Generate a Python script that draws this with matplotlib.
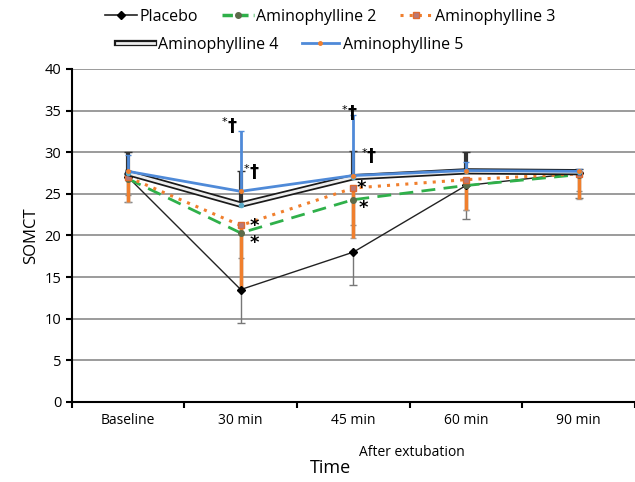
import matplotlib
matplotlib.use("Agg")
import matplotlib.pyplot as plt
import matplotlib.patheffects as pe
from matplotlib.lines import Line2D

plt.rcParams['font.family'] = ['Open Sans', 'DejaVu Sans']

# Данные
categories = ['Baseline', '30 min', '45 min', '60 min', '90 min']
placebo = [27.0, 13.5, 18.0, 26.0, 27.5]
amino2 = [26.8, 20.3, 24.3, 26.0, 27.3]
amino3 = [27.0, 21.2, 25.7, 26.7, 27.4]
amino4 = [27.5, 23.7, 27.0, 27.7, 27.6]
amino5 = [27.7, 25.3, 27.2, 27.8, 27.7]

# Погрешности (одна сторона)
placebo_low = [3.0, 4.0, 4.0, 4.0, 3.0]
amino2_low = [2.0, 3.0, 3.0, 3.0, 2.0]
amino3_low = [3.0, 7.7, 6.0, 3.7, 3.0]
amino4_up = [2.5, 4.0, 3.2, 2.3, 0.4]
amino5_up = [2.0, 7.2, 7.3, 1.0, 0.3]

x = list(range(len(categories)))
zeros = [0] * len(x)

fig = plt.figure(figsize=(6.35, 4.82), dpi=100)
ax = fig.add_axes([0.113, 0.166, 0.887, 0.691])

ax.set_ylim(0, 40)
ax.set_xlim(-0.5, 4.5)
ax.set_yticks(range(0, 41, 5))
for yv in range(5, 41, 5):
    ax.axhline(yv, color='#8a8a8a', lw=1.2, zorder=0)

# Placebo
ax.errorbar(x, placebo, yerr=[placebo_low, zeros], fmt='none', ecolor='#777777',
            elinewidth=1, capsize=3, zorder=2)
ax.plot(x, placebo, color='#222222', lw=1, marker='D', ms=4.5, mfc='black', mec='black', zorder=3)

# Aminophylline 2
ax.errorbar(x, amino2, yerr=[amino2_low, zeros], fmt='none', ecolor='#888888',
            elinewidth=1.5, capsize=2, zorder=2)
ax.plot(x, amino2, color='#2fb04a', lw=2, ls=(0, (5, 3)), marker='o', ms=4,
        mfc='#5c6b4a', mec='#5c6b4a', zorder=4)

# Aminophylline 3
ax.errorbar(x, amino3, yerr=[amino3_low, zeros], fmt='none', ecolor='#a0a0a0',
            elinewidth=2.5, capsize=2, zorder=2)
ax.errorbar(x, amino3, yerr=[amino3_low, zeros], fmt='none', ecolor='#f07f2d',
            elinewidth=2.5, ls=':', capsize=0, zorder=2)
ax.plot(x, amino3, color='#f07f2d', lw=2.2, ls=(0, (1, 2)), marker='s', ms=5,
        mfc='#b87878', mec='#e06a30', zorder=5)

# Aminophylline 4 (двойная линия)
ax.errorbar(x, amino4, yerr=[zeros, amino4_up], fmt='none', ecolor='#333333',
            elinewidth=3, capsize=3, zorder=2)
dbl = [pe.Stroke(linewidth=4.5, foreground='#1a1a1a'), pe.Normal()]
ax.plot(x, amino4, color='#eeeeee', lw=2, path_effects=dbl, zorder=6)
ax.plot(x, amino4, ls='none', marker='o', ms=3, mfc='#5aaac8', mec='#5aaac8', zorder=6)

# Aminophylline 5
ax.errorbar(x, amino5, yerr=[zeros, amino5_up], fmt='none', ecolor='#4f8ad8',
            elinewidth=2, capsize=2, zorder=6)
ax.plot(x, amino5, color='#4f8ad8', lw=2, marker='o', ms=2.5, mfc='#f07f2d', mec='#f07f2d', zorder=7)

# Значимость: маленькая звёздочка и крест
daggers = [(0.92, 33.2), (1.12, 27.6), (1.99, 34.7), (2.16, 29.5)]
stars = [(1.12, 21.1), (1.12, 19.1), (2.07, 25.7), (2.09, 23.3)]
for mx, my in daggers:
    ax.text(mx - 0.04, my + 0.4, '*', fontsize=8, ha='right', va='center',
            family=['DejaVu Sans'], zorder=8)
    ax.text(mx - 0.04, my, '†', fontsize=13, fontweight='bold', ha='left', va='center',
            family=['DejaVu Sans'], zorder=8)
for mx, my in stars:
    ax.text(mx, my, '*', fontsize=13, fontweight='bold', ha='center', va='center',
            family=['DejaVu Sans'], zorder=8)

ax.set_xticks(x)
ax.set_xticklabels(categories, fontsize=10)
ax.set_xticks([i - 0.5 for i in range(6)], minor=True)
ax.tick_params(axis='x', which='major', length=0, pad=8)
ax.tick_params(axis='x', which='minor', length=4, width=1.5, direction='out')
ax.tick_params(axis='y', labelsize=10.5, length=4, width=1.5)

for side in ['top', 'right']:
    ax.spines[side].set_visible(False)
ax.spines['left'].set_linewidth(1.5)
ax.spines['bottom'].set_linewidth(1.5)

ax.set_ylabel('SOMCT', fontsize=12)
fig.text(412 / 635, 1 - 452 / 482, 'After extubation', ha='center', va='center', fontsize=10)
fig.text(330 / 635, 1 - 468 / 482, 'Time', ha='center', va='center', fontsize=13)

# Легенда в две строки
h1 = [Line2D([], [], color='#222222', lw=1.2, marker='D', ms=4.5, mfc='black', mec='black'),
      Line2D([], [], color='#2fb04a', lw=2.5, ls=(0, (3, 1.5)), marker='o', ms=4, mfc='#5c6b4a', mec='#5c6b4a'),
      Line2D([], [], color='#f07f2d', lw=2.2, ls=(0, (1, 2)), marker='s', ms=5, mfc='#b87878', mec='#e06a30')]
h2 = [Line2D([], [], color='#eeeeee', lw=2, path_effects=dbl),
      Line2D([], [], color='#4f8ad8', lw=2, marker='o', ms=2.5, mfc='#f07f2d', mec='#f07f2d')]
fig.legend(h1, ['Placebo', 'Aminophylline 2', 'Aminophylline 3'], ncol=3, frameon=False,
           loc='center', bbox_to_anchor=(330 / 635, 1 - 17 / 482), fontsize=11.5,
           handlelength=2.0, handletextpad=0.15, columnspacing=1.5)
fig.legend(h2, ['Aminophylline 4', 'Aminophylline 5'], ncol=2, frameon=False,
           loc='center', bbox_to_anchor=(290 / 635, 1 - 45 / 482), fontsize=11.5,
           handlelength=2.3, handletextpad=0.25, columnspacing=1.5)

plt.savefig('out.png', dpi=100)
